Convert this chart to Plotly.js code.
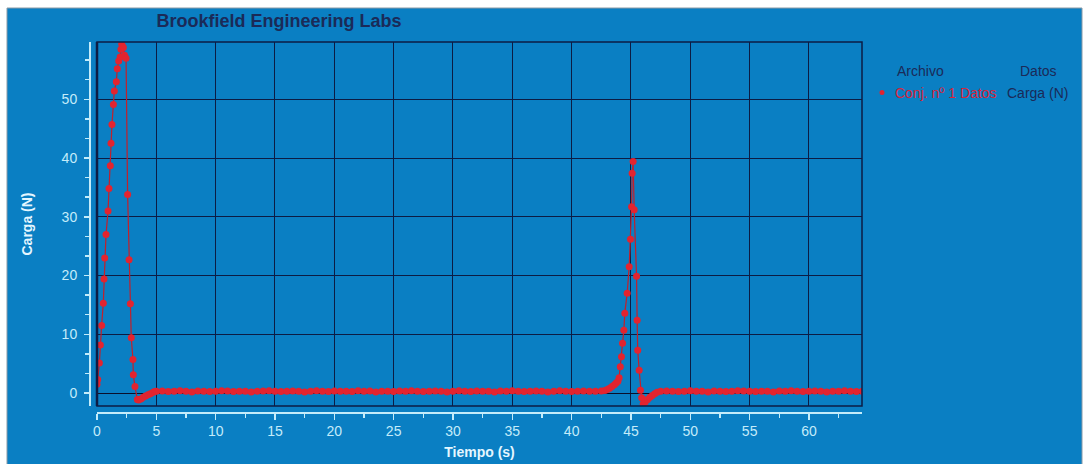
<!DOCTYPE html>
<html>
<head>
<meta charset="utf-8">
<script src="https://cdn.plot.ly/plotly-3.0.1.min.js"></script>
<style>html,body{margin:0;padding:0;background:#fff;}#chart{width:1088px;height:464px;}</style>
</head>
<body>
<div id="chart"></div>
<script>
// ---- data ----
const peak1Time = [0.0,0.06,0.2,0.28,0.39,0.53,0.59,0.65,0.76,0.93,1.01,1.12,1.18,1.26,1.38,1.46,1.63,1.71,1.83,1.95,2.02,2.08,2.15,2.22,2.32,2.45,2.58,2.7,2.81,2.89,3.03,3.06,3.2,3.4,3.5,3.7,3.9,4.1,4.3,4.5,4.7,4.85];
const peak1Load = [1.5,2.3,5.1,8.2,11.5,15.3,19.4,23.0,27.0,31.0,34.8,38.7,42.5,45.7,49.1,51.4,53.0,55.2,56.5,57.2,58.5,59.4,59.0,58.8,57.5,57.0,33.8,22.7,15.2,9.4,5.7,3.1,1.1,-1.1,-1.2,-1.0,-0.7,-0.5,-0.3,-0.1,0.1,0.25];
const base1Time = [5.0,5.5,6.0,6.5,7.0,7.5,8.0,8.5,9.0,9.5,10.0,10.5,11.0,11.5,12.0,12.5,13.0,13.5,14.0,14.5,15.0,15.5,16.0,16.5,17.0,17.5,18.0,18.5,19.0,19.5,20.0,20.5,21.0,21.5,22.0,22.5,23.0,23.5,24.0,24.5,25.0,25.5,26.0,26.5,27.0,27.5,28.0,28.5,29.0,29.5,30.0,30.5,31.0,31.5,32.0,32.5,33.0,33.5,34.0,34.5,35.0,35.5,36.0,36.5,37.0,37.5,38.0,38.5,39.0,39.5,40.0,40.5,41.0,41.5,42.0,42.5];
const base1Load = [0.3,0.35,0.25,0.3,0.4,0.3,0.2,0.35,0.3,0.25,0.3,0.4,0.35,0.25,0.3,0.3,0.2,0.3,0.35,0.4,0.3,0.25,0.3,0.35,0.3,0.2,0.3,0.4,0.3,0.25,0.35,0.3,0.3,0.25,0.4,0.3,0.35,0.2,0.3,0.3,0.25,0.35,0.3,0.4,0.3,0.25,0.3,0.35,0.3,0.2,0.3,0.4,0.3,0.25,0.35,0.3,0.3,0.2,0.35,0.3,0.4,0.3,0.25,0.3,0.35,0.3,0.2,0.3,0.4,0.3,0.25,0.3,0.35,0.3,0.3,0.35];
const peak2Time = [42.8,43.0,43.2,43.4,43.6,43.75,43.9,44.0,44.1,44.2,44.29,44.4,44.48,44.68,44.85,44.96,45.05,45.1,45.18,45.27,45.47,45.52,45.57,45.69,45.8,45.9,46.03,46.2,46.4,46.6,46.8,47.0,47.2];
const peak2Load = [0.45,0.6,0.8,1.1,1.4,1.7,2.0,2.6,4.5,6.2,8.5,10.7,13.6,17.0,21.5,26.2,31.7,37.4,39.4,31.2,19.9,12.4,7.3,3.9,0.5,-0.8,-1.8,-1.5,-1.1,-0.7,-0.4,-0.1,0.15];
const base2Time = [47.5,48.0,48.5,49.0,49.5,50.0,50.5,51.0,51.5,52.0,52.5,53.0,53.5,54.0,54.5,55.0,55.5,56.0,56.5,57.0,57.5,58.0,58.5,59.0,59.5,60.0,60.5,61.0,61.5,62.0,62.5,63.0,63.5,64.0,64.5];
const base2Load = [0.3,0.35,0.3,0.25,0.3,0.4,0.3,0.3,0.2,0.35,0.3,0.25,0.3,0.4,0.35,0.3,0.25,0.3,0.3,0.2,0.35,0.3,0.4,0.3,0.25,0.3,0.35,0.3,0.2,0.3,0.3,0.4,0.3,0.25,0.3];

const xTickVals = [0,5,10,15,20,25,30,35,40,45,50,55,60];
const yTickVals = [0,10,20,30,40,50];

const timeAll = peak1Time.concat(base1Time, peak2Time, base2Time);
const loadAll = peak1Load.concat(base1Load, peak2Load, base2Load);
// baseline stretches (same samples) drawn as a dense band, gap between them
const bandTime = base1Time.concat([null], base2Time);
const bandLoad = base1Load.concat([null], base2Load);

// ---- styles ----
const BG = '#0a7fc3';
const GRID = '#0c1c44';
const AXC = '#c4ecfa';
const NAVY = '#1b2a58';
const RED = '#e3242f';
const FONT = 'Liberation Sans, Arial, sans-serif';

// plot frame in px: x 89..862 (axis at 89, data area from 97), y 42..412
const L = 89, R = 1088 - 862, T = 42, B = 464 - 412;
const PW = 1088 - L - R, PH = 464 - T - B;
const px = v => (v - L) / PW;
const py = v => (464 - B - v) / PH;

const band = {
  x: bandTime, y: bandLoad, type: 'scatter', mode: 'lines',
  line: {color: RED, width: 4}, connectgaps: false,
  showlegend: false, hoverinfo: 'skip'
};
const trace = {
  x: timeAll, y: loadAll, type: 'scatter', mode: 'lines+markers',
  name: 'Conj. nº 1 Datos',
  line: {color: '#c41f2a', width: 1.2},
  marker: {color: RED, size: 7},
  showlegend: false, cliponaxis: true
};

const layout = {
  width: 1088, height: 464,
  margin: {l: L, r: R, t: T, b: B, pad: 0},
  paper_bgcolor: '#ffffff', plot_bgcolor: 'rgba(0,0,0,0)',
  font: {family: FONT, color: AXC, size: 14},
  title: {text: '<b>Brookfield Engineering Labs</b>', x: 279/1088, xanchor: 'center', y: 1 - 21/464, yanchor: 'middle',
          font: {family: FONT, size: 18, color: NAVY}},
  xaxis: {
    domain: [8/PW, 1], anchor: 'free', position: 0,
    range: [0, 64.47], tickvals: xTickVals, ticktext: xTickVals.map(String),
    showgrid: true, gridcolor: GRID, gridwidth: 1, zeroline: false,
    showline: true, linecolor: AXC, linewidth: 1.5,
    ticks: 'outside', ticklen: 6, tickcolor: AXC, tickwidth: 1.5,
    minor: {dtick: 2.5, tick0: 0, ticks: 'outside', ticklen: 4, tickcolor: AXC, tickwidth: 1.5, showgrid: false},
    tickfont: {family: FONT, size: 14, color: AXC},
    title: {text: '<b>Tiempo (s)</b>', font: {family: FONT, size: 14, color: '#e4f6ff'}, standoff: 9}
  },
  yaxis: {
    domain: [6/PH, 1], anchor: 'free', position: 0,
    range: [-2.2, 59.75], tickvals: yTickVals, ticktext: yTickVals.map(String),
    showgrid: true, gridcolor: GRID, gridwidth: 1, zeroline: true, zerolinecolor: '#0a0f2a', zerolinewidth: 1,
    showline: true, linecolor: AXC, linewidth: 1.5,
    ticks: 'outside', ticklen: 5, tickcolor: AXC, tickwidth: 1.5,
    minor: {dtick: 10/3, tick0: 0, ticks: 'outside', ticklen: 4, tickcolor: AXC, tickwidth: 1.5, showgrid: false},
    tickfont: {family: FONT, size: 14, color: AXC},
    ticklabelstandoff: 4,
    title: {text: '<b>Carga (N)</b>', font: {family: FONT, size: 14, color: '#e4f6ff'}, standoff: 24}
  },
  shapes: [
    {type: 'rect', xref: 'paper', yref: 'paper', layer: 'below',
     x0: px(7), x1: px(1082), y0: py(8), y1: py(470),
     fillcolor: BG, line: {color: '#8a9aa6', width: 1}},
    {type: 'rect', xref: 'x domain', yref: 'y domain', layer: 'above',
     x0: 0, x1: 1, y0: 0, y1: 1, line: {color: GRID, width: 1.5}},
    {type: 'line', xref: 'x domain', yref: 'y domain', layer: 'above',
     x0: 0, x1: 0, y0: 0, y1: 1, line: {color: GRID, width: 2.5}},
    {type: 'circle', xref: 'paper', yref: 'paper', layer: 'above',
     x0: px(879.5), x1: px(884.5), y0: py(95), y1: py(90),
     fillcolor: RED, line: {width: 0}}
  ],
  annotations: [
    {text: 'Archivo', xref: 'paper', yref: 'paper', x: px(895), y: py(71), xanchor: 'left', yanchor: 'middle', showarrow: false,
     font: {family: FONT, size: 14, color: NAVY}},
    {text: 'Datos', xref: 'paper', yref: 'paper', x: px(1018), y: py(71), xanchor: 'left', yanchor: 'middle', showarrow: false,
     font: {family: FONT, size: 14, color: NAVY}},
    {text: 'Conj. nº 1 Datos', xref: 'paper', yref: 'paper', x: px(893), y: py(93), xanchor: 'left', yanchor: 'middle', showarrow: false,
     font: {family: FONT, size: 14, color: '#d8243a'}},
    {text: 'Carga (N)', xref: 'paper', yref: 'paper', x: px(1005), y: py(93), xanchor: 'left', yanchor: 'middle', showarrow: false,
     font: {family: FONT, size: 14, color: NAVY}}
  ]
};

Plotly.newPlot('chart', [band, trace], layout, {displayModeBar: false, staticPlot: true});
</script>
</body>
</html>
